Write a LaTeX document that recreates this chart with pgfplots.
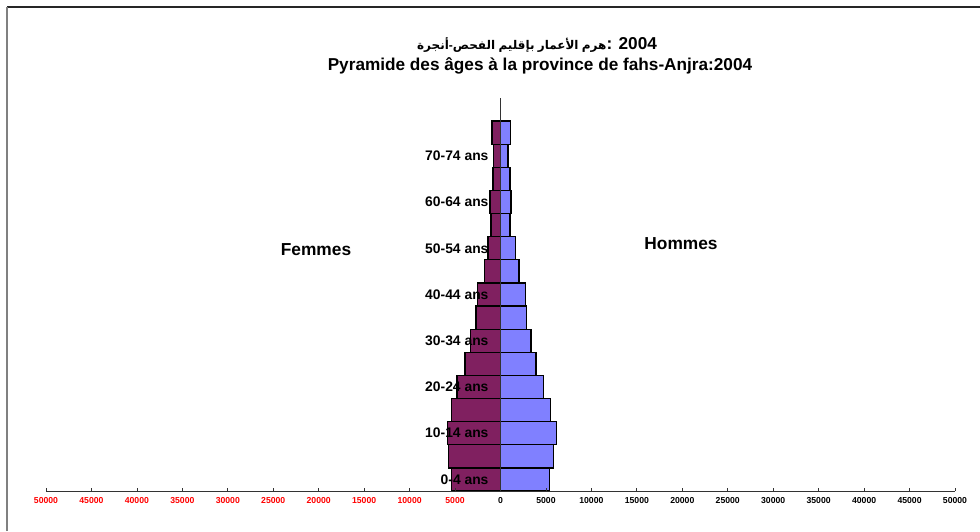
\documentclass[border=0pt]{standalone}
\usepackage{pgfplots}
\usepackage{pgfplotstable}
\pgfplotsset{compat=1.18}
\usepackage{fontspec}
\setmainfont{Liberation Sans}
\newfontfamily\arabicfont[Script=Arabic]{DejaVu Sans}
\TeXXeTstate=1
\definecolor{femmes}{RGB}{128,32,96}
\definecolor{hommes}{RGB}{128,128,255}
\newcommand{\rt}[1]{\textcolor{red}{#1}}
\newcommand{\ar}[1]{\hbox{\arabicfont\beginR #1\endR}}

% age group index, femmes, hommes
\pgfplotstableread{
idx f h
0 5390 5420
1 5690 5800
2 5800 6130
3 5390 5500
4 4770 4700
5 3920 3920
6 3300 3340
7 2680 2860
8 2530 2750
9 1730 2050
10 1360 1650
11 1060 1030
12 1140 1170
13 840 1030
14 770 840
15 950 1100
}\pyramide

\begin{document}
\begin{tikzpicture}
\path[use as bounding box] (0,0) rectangle (735pt,398.25pt);
\draw[black!85, line width=1.5pt] (5.25pt,393pt) -- (735pt,393pt);
\draw[black!50, line width=1.5pt] (5.25pt,0pt) -- (5.25pt,393pt);

\begin{axis}[
    at={(34.5pt,30pt)}, anchor=south west,
    scale only axis, width=681.75pt, height=294.75pt,
    xmin=-50000, xmax=50000, ymin=-0.5, ymax=16.5,
    xbar, bar width=1,
    axis on top,
    axis x line=bottom, axis y line=middle,
    axis line style={-, line width=0.6pt, black!80},
    hide obscured x ticks=false, hide obscured y ticks=false,
    scaled x ticks=false,
    xtick={-50000,-45000,...,50000},
    xticklabels={\rt{50000},\rt{45000},\rt{40000},\rt{35000},\rt{30000},\rt{25000},\rt{20000},\rt{15000},\rt{10000},\rt{5000},0,5000,10000,15000,20000,25000,30000,35000,40000,45000,50000},
    xtick align=inside, major tick length=2pt,
    x tick style={black!80, line width=0.6pt},
    xticklabel style={font=\bfseries\fontsize{6.5}{7}\selectfont, yshift=-1pt},
    ytick={0,2,...,14},
    yticklabels={0-4 ans,10-14 ans,20-24 ans,30-34 ans,40-44 ans,50-54 ans,60-64 ans,70-74 ans},
    y tick style={draw=none},
    yticklabel style={font=\bfseries\fontsize{10.4}{11}\selectfont, anchor=east, xshift=-4.5pt},
    clip=false,
]
\addplot[fill=femmes, draw=black, line width=1pt, bar shift=0pt]
    table[x expr=-\thisrow{f}, y=idx] {\pyramide};
\addplot[fill=hommes, draw=black, line width=1pt, bar shift=0pt]
    table[x=h, y=idx] {\pyramide};
\end{axis}

\node[font=\bfseries\fontsize{12.9}{14}\selectfont] at (402.75pt,364.5pt)
    {{\fontsize{9}{10}\selectfont\ar{أنجرة}-\ar{الفحص}\ \ar{بإقليم}\ \ar{الأعمار}\ \ar{هرم}}: 2004};
\node[font=\bfseries\fontsize{12.9}{14}\selectfont] at (405pt,348.75pt)
    {Pyramide des âges à la province de fahs-Anjra:2004};
\node[font=\bfseries\fontsize{13}{14}\selectfont] at (237pt,210.75pt) {Femmes};
\node[font=\bfseries\fontsize{13}{14}\selectfont] at (510.75pt,215.25pt) {Hommes};
\end{tikzpicture}
\end{document}
